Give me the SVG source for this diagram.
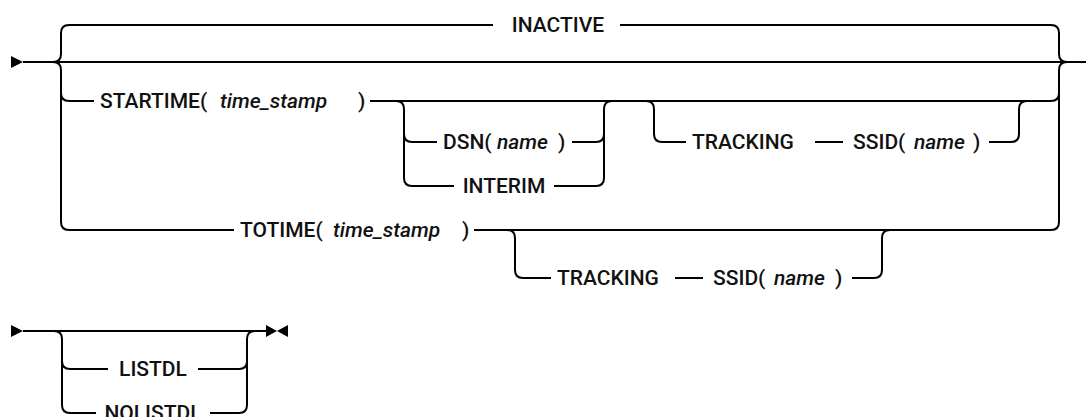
<svg xmlns="http://www.w3.org/2000/svg" width="1086" height="417" viewBox="0 0 1086 417">
<style>
.ln{fill:none;stroke:#000;stroke-width:2;stroke-linejoin:round;stroke-linecap:butt}
.ar{fill:#000;stroke:none}
text{font-family:Roboto,"Liberation Sans",Arial,sans-serif;font-size:21px;font-weight:500;fill:#111}
.i{font-style:italic}
.c{text-anchor:middle}
</style>
<rect width="1086" height="417" fill="#fff"/>
<g id="connectors">
<polygon class="ar" points="11,56 23,62 11,68"/>
<path class="ln" d="M23 62 H1086"/>
<path class="ln" d="M53 62 Q61 62 61 54 V33 Q61 25 69 25 H493"/>
<path class="ln" d="M620 25 H1051 Q1059 25 1059 33 V54 Q1059 62 1067 62"/>
<path class="ln" d="M53 62 Q61 62 61 70 V222 Q61 230 69 230 H234"/>
<path class="ln" d="M61 93 Q61 101 69 101 H94"/>
<path class="ln" d="M370 101 H1051 Q1059 101 1059 93"/>
<path class="ln" d="M1067 62 Q1059 62 1059 70 V222 Q1059 230 1051 230 H474"/>
<path class="ln" d="M396 101 Q404 101 404 109 V178 Q404 186 412 186 H454"/>
<path class="ln" d="M404 134 Q404 142 412 142 H437"/>
<path class="ln" d="M572 142 H596 Q604 142 604 134"/>
<path class="ln" d="M554 186 H596 Q604 186 604 178 V109 Q604 101 612 101"/>
<path class="ln" d="M646 101 Q654 101 654 109 V134 Q654 142 662 142 H686"/>
<path class="ln" d="M815 142 H843"/>
<path class="ln" d="M989 142 H1011 Q1019 142 1019 134 V109 Q1019 101 1027 101"/>
<path class="ln" d="M507 230 Q515 230 515 238 V270 Q515 278 523 278 H551"/>
<path class="ln" d="M675 278 H703"/>
<path class="ln" d="M852 278 H874 Q882 278 882 270 V238 Q882 230 890 230"/>
<polygon class="ar" points="11,325 23,331 11,337"/>
<path class="ln" d="M23 331 H267"/>
<path class="ln" d="M54 331 Q62 331 62 339 V405 Q62 413 70 413 H96"/>
<path class="ln" d="M62 361 Q62 369 70 369 H108"/>
<path class="ln" d="M198 369 H239 Q247 369 247 361"/>
<path class="ln" d="M210 413 H239 Q247 413 247 405 V339 Q247 331 255 331"/>
<polygon class="ar" points="266,325 277,331 266,337"/>
<polygon class="ar" points="288,325 277,331 288,337"/>
</g>
<g id="inactive"><text class="c" x="558" y="32">INACTIVE</text></g>
<g id="startime"><text x="100" y="108">STARTIME(<tspan class="i" x="220">time_stamp</tspan><tspan x="358">)</tspan></text></g>
<g id="dsn"><text x="443" y="149">DSN(<tspan class="i" x="497">name</tspan><tspan x="558">)</tspan></text></g>
<g id="interim"><text class="c" x="504" y="193">INTERIM</text></g>
<g id="tracking1"><text x="692" y="149">TRACKING</text></g>
<g id="ssid1"><text x="853" y="149">SSID(<tspan class="i" x="914">name</tspan><tspan x="973">)</tspan></text></g>
<g id="totime"><text x="240" y="237">TOTIME(<tspan class="i" x="333">time_stamp</tspan><tspan x="462">)</tspan></text></g>
<g id="tracking2"><text x="557" y="285">TRACKING</text></g>
<g id="ssid2"><text x="713" y="285">SSID(<tspan class="i" x="774">name</tspan><tspan x="835">)</tspan></text></g>
<g id="listdl"><text class="c" x="153" y="376">LISTDL</text></g>
<g id="nolistdl"><text class="c" x="153" y="420">NOLISTDL</text></g>
</svg>
